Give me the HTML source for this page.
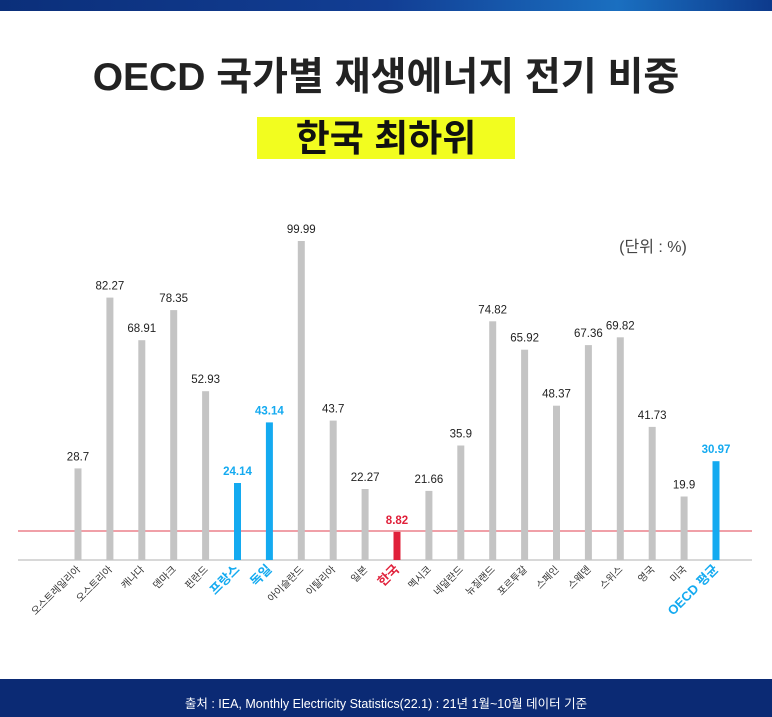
<!DOCTYPE html>
<html><head><meta charset="utf-8"><style>
body{margin:0;width:772px;height:717px;overflow:hidden;background:#fff;font-family:"Liberation Sans","Noto Sans CJK KR",sans-serif}
</style></head><body>
<svg width="772" height="717" xmlns="http://www.w3.org/2000/svg" style="display:block;font-family:'Liberation Sans','Noto Sans CJK KR',sans-serif">
<defs><linearGradient id="g" x1="0" x2="1"><stop offset="0" stop-color="#0b2f7a"/><stop offset="0.5" stop-color="#123e94"/><stop offset="0.8" stop-color="#1a6fc0"/><stop offset="1" stop-color="#0d3a8c"/></linearGradient></defs>
<rect x="0" y="0" width="772" height="11" fill="url(#g)"/>
<text x="386" y="90" text-anchor="middle" font-size="39" font-weight="bold" fill="#222">OECD 국가별 재생에너지 전기 비중</text>
<rect x="257" y="117" width="258" height="42" fill="#f2fd1f"/>
<text x="386" y="151" text-anchor="middle" font-size="37" font-weight="bold" fill="#111">한국 최하위</text>
<text x="653" y="252" text-anchor="middle" font-size="16" fill="#444">(단위 : %)</text>
<line x1="18" y1="560" x2="752" y2="560" stroke="#ccc" stroke-width="1.5"/>
<line x1="18" y1="531" x2="752" y2="531" stroke="#e04050" stroke-width="1"/>
<g font-size="11.5" text-anchor="middle" fill="#222">
<rect x="74.5" y="468.4" width="7" height="91.6" fill="#c4c4c4"/><text x="78" y="460.4">28.7</text>
<rect x="106.4" y="297.6" width="7" height="262.4" fill="#c4c4c4"/><text x="109.9" y="289.6">82.27</text>
<rect x="138.3" y="340.2" width="7" height="219.8" fill="#c4c4c4"/><text x="141.8" y="332.2">68.91</text>
<rect x="170.2" y="310.1" width="7" height="249.9" fill="#c4c4c4"/><text x="173.7" y="302.1">78.35</text>
<rect x="202.1" y="391.2" width="7" height="168.8" fill="#c4c4c4"/><text x="205.6" y="383.2">52.93</text>
<rect x="234" y="483" width="7" height="77" fill="#14aaf0"/><text x="237.5" y="475" fill="#14aaf0" font-weight="bold">24.14</text>
<rect x="265.9" y="422.4" width="7" height="137.6" fill="#14aaf0"/><text x="269.4" y="414.4" fill="#14aaf0" font-weight="bold">43.14</text>
<rect x="297.8" y="241" width="7" height="319" fill="#c4c4c4"/><text x="301.3" y="233">99.99</text>
<rect x="329.7" y="420.6" width="7" height="139.4" fill="#c4c4c4"/><text x="333.2" y="412.6">43.7</text>
<rect x="361.6" y="489" width="7" height="71" fill="#c4c4c4"/><text x="365.1" y="481">22.27</text>
<rect x="393.5" y="531.9" width="7" height="28.1" fill="#e0203a"/><text x="397" y="523.9" fill="#e0203a" font-weight="bold">8.82</text>
<rect x="425.4" y="490.9" width="7" height="69.1" fill="#c4c4c4"/><text x="428.9" y="482.9">21.66</text>
<rect x="457.3" y="445.5" width="7" height="114.5" fill="#c4c4c4"/><text x="460.8" y="437.5">35.9</text>
<rect x="489.2" y="321.3" width="7" height="238.7" fill="#c4c4c4"/><text x="492.7" y="313.3">74.82</text>
<rect x="521.1" y="349.7" width="7" height="210.3" fill="#c4c4c4"/><text x="524.6" y="341.7">65.92</text>
<rect x="553" y="405.7" width="7" height="154.3" fill="#c4c4c4"/><text x="556.5" y="397.7">48.37</text>
<rect x="584.9" y="345.1" width="7" height="214.9" fill="#c4c4c4"/><text x="588.4" y="337.1">67.36</text>
<rect x="616.8" y="337.3" width="7" height="222.7" fill="#c4c4c4"/><text x="620.3" y="329.3">69.82</text>
<rect x="648.7" y="426.9" width="7" height="133.1" fill="#c4c4c4"/><text x="652.2" y="418.9">41.73</text>
<rect x="680.6" y="496.5" width="7" height="63.5" fill="#c4c4c4"/><text x="684.1" y="488.5">19.9</text>
<rect x="712.5" y="461.2" width="7" height="98.8" fill="#14aaf0"/><text x="716" y="453.2" fill="#14aaf0" font-weight="bold">30.97</text>
</g>
<g font-size="10" text-anchor="end" fill="#333">
<text transform="translate(81,570) rotate(-45)">오스트레일리아</text>
<text transform="translate(112.9,570) rotate(-45)">오스트리아</text>
<text transform="translate(144.8,570) rotate(-45)">캐나다</text>
<text transform="translate(176.7,570) rotate(-45)">덴마크</text>
<text transform="translate(208.6,570) rotate(-45)">핀란드</text>
<text transform="translate(240.5,570) rotate(-45)" font-size="13" font-weight="bold" fill="#14aaf0">프랑스</text>
<text transform="translate(272.4,570) rotate(-45)" font-size="13" font-weight="bold" fill="#14aaf0">독일</text>
<text transform="translate(304.3,570) rotate(-45)">아이슬란드</text>
<text transform="translate(336.2,570) rotate(-45)">이탈리아</text>
<text transform="translate(368.1,570) rotate(-45)">일본</text>
<text transform="translate(400,570) rotate(-45)" font-size="13" font-weight="bold" fill="#e0203a">한국</text>
<text transform="translate(431.9,570) rotate(-45)">멕시코</text>
<text transform="translate(463.8,570) rotate(-45)">네덜란드</text>
<text transform="translate(495.7,570) rotate(-45)">뉴질랜드</text>
<text transform="translate(527.6,570) rotate(-45)">포르투갈</text>
<text transform="translate(559.5,570) rotate(-45)">스페인</text>
<text transform="translate(591.4,570) rotate(-45)">스웨덴</text>
<text transform="translate(623.3,570) rotate(-45)">스위스</text>
<text transform="translate(655.2,570) rotate(-45)">영국</text>
<text transform="translate(687.1,570) rotate(-45)">미국</text>
<text transform="translate(719,570) rotate(-45)" font-size="13" font-weight="bold" fill="#14aaf0">OECD 평균</text>
</g>
<rect x="0" y="679" width="772" height="38" fill="#0b2a74"/>
<text x="386" y="708" text-anchor="middle" font-size="12.5" fill="#fff">출처 : IEA, Monthly Electricity Statistics(22.1) : 21년 1월~10월 데이터 기준</text>
</svg>
</body></html>
